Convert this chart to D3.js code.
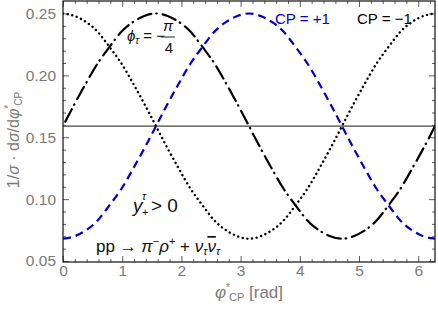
<!DOCTYPE html>
<html>
<head>
<meta charset="utf-8">
<script src="https://cdn.jsdelivr.net/npm/d3@7"></script>
<style>
  body { margin: 0; background: #fff; }
  text { font-family: "Liberation Sans", Arial, sans-serif; }
</style>
</head>
<body>
<div id="chart-area"></div>
<script>
//Data
var phiValues = [0, 0.196, 0.393, 0.589, 0.785, 0.982, 1.178, 1.374, 1.571, 1.767, 1.963, 2.160, 2.356, 2.553, 2.749, 2.945, 3.142,
                 3.338, 3.534, 3.731, 3.927, 4.123, 4.320, 4.516, 4.712, 4.909, 5.105, 5.301, 5.498, 5.694, 5.890, 6.087, 6.283]
var cpPlus = [0.068, 0.070, 0.075, 0.083, 0.095, 0.108, 0.124, 0.141, 0.159, 0.177, 0.194, 0.210, 0.223, 0.235, 0.243, 0.248, 0.250,
              0.248, 0.243, 0.235, 0.223, 0.210, 0.194, 0.177, 0.159, 0.141, 0.124, 0.108, 0.095, 0.083, 0.075, 0.070, 0.068]
var cpMinus = [0.250, 0.248, 0.243, 0.235, 0.223, 0.210, 0.194, 0.177, 0.159, 0.141, 0.124, 0.108, 0.095, 0.083, 0.075, 0.070, 0.068,
               0.070, 0.075, 0.083, 0.095, 0.108, 0.124, 0.141, 0.159, 0.177, 0.194, 0.210, 0.223, 0.235, 0.243, 0.248, 0.250]
var cpMixed = [0.159, 0.177, 0.194, 0.210, 0.223, 0.235, 0.243, 0.248, 0.250, 0.248, 0.243, 0.235, 0.223, 0.210, 0.194, 0.177, 0.159,
               0.141, 0.124, 0.108, 0.095, 0.083, 0.075, 0.070, 0.068, 0.070, 0.075, 0.083, 0.095, 0.108, 0.124, 0.141, 0.159]
var flatLine = [0.159, 0.159]
var xTicks = [0, 1, 2, 3, 4, 5, 6]
var yTicks = [0.05, 0.10, 0.15, 0.20, 0.25]

//Canvas
var margin = {top:1,bottom:49,left:63,right:3}
var width = 438 - margin.left - margin.right
var height = 311 - margin.top - margin.bottom

var svg = d3.select("#chart-area")
    .append("svg")
        .attr("width",438)
        .attr("height",311)

var canvas = svg.append("g")
    .attr("transform","translate(" + margin.left + "," + margin.top + ")")

//Scales
var x = d3.scaleLinear()
    .domain([0, 2*Math.PI])
    .range([0,width])

var y = d3.scaleLinear()
    .domain([0.0492, 0.2601])
    .range([height,0])

//Ticks (inward, Mathematica frame style)
var xMinor = d3.range(0, 6.3, 0.2).filter(v => Math.abs(v - Math.round(v)) > 0.01)
var yMinor = d3.range(0.05, 0.26, 0.01).filter(v => Math.abs(v*20 - Math.round(v*20)) > 0.01)

var xAxisBottom = d3.axisBottom(x).tickValues(xTicks).tickSize(-6).tickPadding(3).tickFormat(d3.format("d"))
var xAxisTop = d3.axisTop(x).tickValues(xTicks).tickSize(-6).tickFormat("")
var yAxisLeft = d3.axisLeft(y).tickValues(yTicks).tickSize(-6).tickPadding(7).tickFormat(d3.format(".2f"))
var yAxisRight = d3.axisRight(y).tickValues(yTicks).tickSize(-6).tickFormat("")

var styleAxis = (g)=>{
    g.select(".domain").remove()
    g.selectAll("line").attr("stroke","#333").attr("stroke-width",0.8)
    g.selectAll("text").attr("fill","#7a7a7a").attr("font-size","15.5px")
        .attr("font-family","Liberation Sans, Arial, sans-serif")
}

canvas.append("g").attr("transform","translate(0," + height + ")").call(xAxisBottom).call(styleAxis)
canvas.append("g").call(xAxisTop).call(styleAxis)
canvas.append("g").call(yAxisLeft).call(styleAxis)
canvas.append("g").attr("transform","translate(" + width + ",0)").call(yAxisRight).call(styleAxis)

canvas.append("g").attr("transform","translate(0," + height + ")")
    .call(d3.axisBottom(x).tickValues(xMinor).tickSize(-3).tickFormat("")).call(styleAxis)
canvas.append("g")
    .call(d3.axisTop(x).tickValues(xMinor).tickSize(-3).tickFormat("")).call(styleAxis)
canvas.append("g")
    .call(d3.axisLeft(y).tickValues(yMinor).tickSize(-3).tickFormat("")).call(styleAxis)
canvas.append("g").attr("transform","translate(" + width + ",0)")
    .call(d3.axisRight(y).tickValues(yMinor).tickSize(-3).tickFormat("")).call(styleAxis)

//Clip
svg.append("defs").append("clipPath").attr("id","clip")
    .append("rect").attr("width",width).attr("height",height)

var plot = canvas.append("g").attr("clip-path","url(#clip)")

//Horizontal reference line
plot.append("line")
    .attr("x1",x(0)).attr("x2",x(2*Math.PI))
    .attr("y1",y(flatLine[0])).attr("y2",y(flatLine[1]))
    .attr("stroke","#444").attr("stroke-width",1.2)

var line = d3.line()
    .x((d,i)=>x(phiValues[i]))
    .y(d=>y(d))
    .curve(d3.curveNatural)

plot.append("path").datum(cpMixed)
    .attr("d",line).attr("fill","none")
    .attr("stroke","#000").attr("stroke-width",2.2)
    .attr("stroke-dasharray","14,5,0.5,6")
    .attr("stroke-dashoffset",-5)
    .attr("stroke-linecap","round")

plot.append("path").datum(cpMinus)
    .attr("d",line).attr("fill","none")
    .attr("stroke","#000").attr("stroke-width",2.4)
    .attr("stroke-dasharray","0.1,4.6")
    .attr("stroke-linecap","round")

plot.append("path").datum(cpPlus)
    .attr("d",line).attr("fill","none")
    .attr("stroke","#0000cc").attr("stroke-width",2.2)
    .attr("stroke-dasharray","8,5")

//Frame
canvas.append("rect")
    .attr("width",width).attr("height",height)
    .attr("fill","none").attr("stroke","#222").attr("stroke-width",1.3)

//Labels inside the plot (svg coordinates)
svg.append("text")
    .attr("x",275).attr("y",24)
    .attr("fill","#0000cc").attr("font-size","15px")
    .text("CP = +1")

svg.append("text")
    .attr("x",357).attr("y",24)
    .attr("fill","#000").attr("font-size","15px")
    .text("CP = \u22121")

var phiLabel = svg.append("text")
    .attr("x",127).attr("y",41)
    .attr("fill","#111").attr("font-size","15px")
phiLabel.append("tspan").attr("font-style","italic").text("\u03d5")
phiLabel.append("tspan").attr("font-style","italic").attr("font-size","10px").attr("dy",3).text("\u03c4")
phiLabel.append("tspan").attr("dy",-3).text(" = \u2212")
svg.append("text")
    .attr("x",168).attr("y",31)
    .attr("text-anchor","middle").attr("fill","#111").attr("font-size","15px")
    .attr("font-style","italic").text("\u03c0")
svg.append("line")
    .attr("x1",161).attr("x2",175)
    .attr("y1",37).attr("y2",37).attr("stroke","#111").attr("stroke-width",0.9)
svg.append("text")
    .attr("x",169).attr("y",53)
    .attr("text-anchor","middle").attr("fill","#111").attr("font-size","15px")
    .text("4")

svg.append("text")
    .attr("x",133).attr("y",212)
    .attr("fill","#111").attr("font-size","19px").attr("font-style","italic")
    .text("y")
svg.append("text")
    .attr("x",142).attr("y",200)
    .attr("fill","#111").attr("font-size","11px").attr("font-style","italic")
    .text("\u03c4")
svg.append("text")
    .attr("x",142).attr("y",216)
    .attr("fill","#111").attr("font-size","11px")
    .text("+")
svg.append("text")
    .attr("x",151).attr("y",212)
    .attr("fill","#111").attr("font-size","19px")
    .text("> 0")

var proc = svg.append("text")
    .attr("x",96).attr("y",252)
    .attr("fill","#111").attr("font-size","17px")
proc.append("tspan").text("pp \u2192 ")
proc.append("tspan").attr("font-style","italic").text("\u03c0")
proc.append("tspan").attr("font-size","11px").attr("dy",-7).text("\u2212")
proc.append("tspan").attr("font-style","italic").attr("dy",7).text("\u03c1")
proc.append("tspan").attr("font-size","11px").attr("dy",-7).text("+")
proc.append("tspan").attr("dy",7).text(" + ")
proc.append("tspan").attr("font-style","italic").text("\u03bd")
proc.append("tspan").attr("font-style","italic").attr("font-size","11px").attr("dy",3).text("\u03c4")
proc.append("tspan").attr("font-style","italic").attr("dy",-3).style("text-decoration","overline").text("\u03bd")
proc.append("tspan").attr("font-style","italic").attr("font-size","11px").attr("dy",3).text("\u03c4")

//Axis titles
var xTitle = svg.append("text")
    .attr("x",215).attr("y",298)
    .attr("fill","#7a7a7a").attr("font-size","17px")
xTitle.append("tspan").attr("font-style","italic").text("\u03c6")
xTitle.append("tspan").attr("font-size","10px").attr("dy",-7).text("*")
xTitle.append("tspan").attr("font-size","11px").attr("dx",-1).attr("dy",10).text("CP")
xTitle.append("tspan").attr("dy",-3).text(" [rad]")

var yTitle = svg.append("text")
    .attr("transform","translate(19,140) rotate(-90)")
    .attr("text-anchor","middle").attr("fill","#7a7a7a").attr("font-size","16px")
yTitle.append("tspan").text("1/")
yTitle.append("tspan").attr("font-style","italic").text("\u03c3")
yTitle.append("tspan").text(" \u00b7 d")
yTitle.append("tspan").attr("font-style","italic").text("\u03c3")
yTitle.append("tspan").text("/d")
yTitle.append("tspan").attr("font-style","italic").text("\u03c6")
yTitle.append("tspan").attr("font-size","10px").attr("dy",-7).text("*")
yTitle.append("tspan").attr("font-size","10px").attr("dx",-1).attr("dy",10).text("CP")
</script>
</body>
</html>
